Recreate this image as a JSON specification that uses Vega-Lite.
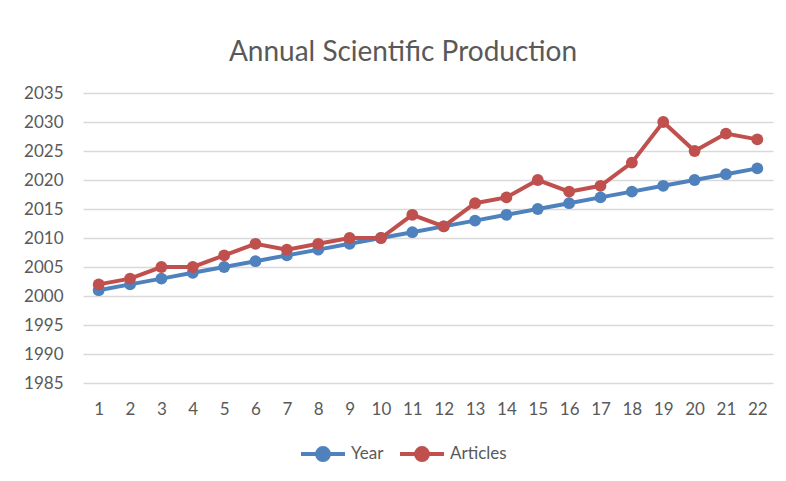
{
  "$schema": "https://vega.github.io/schema/vega-lite/v6.json",
  "width": 690,
  "height": 290,
  "autosize": {"type": "none"},
  "padding": {"left": 83, "top": 93, "right": 13, "bottom": 98},
  "background": "white",
  "title": {"text": "Annual Scientific Production", "fontSize": 28, "font": "Lato", "fontWeight": "normal", "color": "#595959", "offset": 17, "anchor": "middle", "dx": -25},
  "data": {"values": [
    {"x": 1, "series": "Year", "value": 2001}, {"x": 2, "series": "Year", "value": 2002}, {"x": 3, "series": "Year", "value": 2003}, {"x": 4, "series": "Year", "value": 2004}, {"x": 5, "series": "Year", "value": 2005}, {"x": 6, "series": "Year", "value": 2006}, {"x": 7, "series": "Year", "value": 2007}, {"x": 8, "series": "Year", "value": 2008}, {"x": 9, "series": "Year", "value": 2009}, {"x": 10, "series": "Year", "value": 2010}, {"x": 11, "series": "Year", "value": 2011}, {"x": 12, "series": "Year", "value": 2012}, {"x": 13, "series": "Year", "value": 2013}, {"x": 14, "series": "Year", "value": 2014}, {"x": 15, "series": "Year", "value": 2015}, {"x": 16, "series": "Year", "value": 2016}, {"x": 17, "series": "Year", "value": 2017}, {"x": 18, "series": "Year", "value": 2018}, {"x": 19, "series": "Year", "value": 2019}, {"x": 20, "series": "Year", "value": 2020}, {"x": 21, "series": "Year", "value": 2021}, {"x": 22, "series": "Year", "value": 2022},
    {"x": 1, "series": "Articles", "value": 2002}, {"x": 2, "series": "Articles", "value": 2003}, {"x": 3, "series": "Articles", "value": 2005}, {"x": 4, "series": "Articles", "value": 2005}, {"x": 5, "series": "Articles", "value": 2007}, {"x": 6, "series": "Articles", "value": 2009}, {"x": 7, "series": "Articles", "value": 2008}, {"x": 8, "series": "Articles", "value": 2009}, {"x": 9, "series": "Articles", "value": 2010}, {"x": 10, "series": "Articles", "value": 2010}, {"x": 11, "series": "Articles", "value": 2014}, {"x": 12, "series": "Articles", "value": 2012}, {"x": 13, "series": "Articles", "value": 2016}, {"x": 14, "series": "Articles", "value": 2017}, {"x": 15, "series": "Articles", "value": 2020}, {"x": 16, "series": "Articles", "value": 2018}, {"x": 17, "series": "Articles", "value": 2019}, {"x": 18, "series": "Articles", "value": 2023}, {"x": 19, "series": "Articles", "value": 2030}, {"x": 20, "series": "Articles", "value": 2025}, {"x": 21, "series": "Articles", "value": 2028}, {"x": 22, "series": "Articles", "value": 2027}
  ]},
  "encoding": {
    "x": {"field": "x", "type": "ordinal", "sort": "ascending", "scale": {"padding": 0.5},
      "axis": {"title": null, "labelAngle": 0, "ticks": false, "domain": false, "grid": false, "labelPadding": 18}},
    "y": {"field": "value", "type": "quantitative", "scale": {"domain": [1985, 2035], "nice": false, "zero": false},
      "axis": {"title": null, "values": [1985, 1990, 1995, 2000, 2005, 2010, 2015, 2020, 2025, 2030, 2035], "format": "d", "ticks": false, "domain": false, "grid": true, "labelPadding": 20}},
    "color": {"field": "series", "type": "nominal", "scale": {"domain": ["Year", "Articles"], "range": ["#4F81BD", "#C0504D"]},
      "legend": {"title": null, "orient": "none", "legendX": 216, "legendY": 337, "direction": "horizontal",
        "symbolType": "M-1,0H1M-0.27,0A0.27,0.27 0 1,1 0.27,0A0.27,0.27 0 1,1 -0.27,0Z",
        "symbolSize": 1936, "symbolStrokeWidth": 4, "labelFontSize": 17, "labelFont": "Lato", "labelColor": "#595959", "columnPadding": 8, "labelOffset": 4}}
  },
  "layer": [
    {"transform": [{"filter": "datum.series === 'Year'"}], "mark": {"type": "line", "strokeWidth": 4, "point": {"filled": true, "size": 140}}},
    {"transform": [{"filter": "datum.series === 'Articles'"}], "mark": {"type": "line", "strokeWidth": 4, "point": {"filled": true, "size": 140}}}
  ],
  "config": {
    "view": {"stroke": null},
    "axis": {"labelFont": "Lato", "labelFontSize": 17, "labelColor": "#595959", "gridColor": "#D9D9D9", "gridWidth": 1.3}
  }
}
